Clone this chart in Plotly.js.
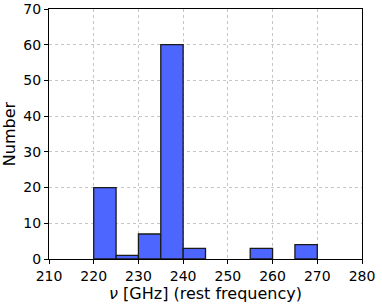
<!DOCTYPE html>
<html>
<head>
<meta charset="utf-8">
<script src="https://cdn.plot.ly/plotly-3.0.1.min.js"></script>
<style>
  html, body { margin: 0; padding: 0; background: #fff; }
  #hist-plot { width: 382px; height: 305px; }
</style>
</head>
<body>
<div id="hist-plot"></div>
<script>
// histogram bins (left edge, GHz) and counts
var binLeft = [220, 225, 230, 235, 240, 245, 250, 255, 260, 265];
var counts = [20, 1, 7, 60, 3, 0, 0, 3, 0, 4];
var binWidth = 5;

function drawHistPlot() {
  var centers = [];
  var heights = [];
  for (var i = 0; i < binLeft.length; i++) {
    if (counts[i] > 0) {
      centers.push(binLeft[i] + binWidth / 2);
      heights.push(counts[i]);
    }
  }

  var plotData = [{
    x: centers,
    y: heights,
    type: 'bar',
    width: binWidth,
    marker: {
      color: '#4d66ff',
      line: { color: '#1a1a1a', width: 1.3 }
    },
    hoverinfo: 'none'
  }];

  var font = { family: 'DejaVu Sans', size: 14, color: '#000' };
  var titleFont = { family: 'DejaVu Sans', size: 16, color: '#000' };

  var layout = {
    width: 382,
    height: 305,
    margin: { l: 49, r: 20, t: 9, b: 46 },
    paper_bgcolor: '#fff',
    plot_bgcolor: '#fff',
    showlegend: false,
    font: font,
    xaxis: {
      range: [210, 280],
      tickvals: [210, 220, 230, 240, 250, 260, 270, 280],
      ticks: 'outside',
      ticklen: 4,
      tickcolor: '#000',
      showline: true,
      linecolor: '#000',
      linewidth: 1,
      mirror: true,
      showgrid: true,
      gridcolor: '#b8b8b8',
      griddash: 'dot',
      gridwidth: 0.8,
      zeroline: false,
      tickfont: font,
      title: { text: '<i>ν</i> [GHz] (rest frequency)', font: titleFont, standoff: 1 }
    },
    yaxis: {
      range: [0, 70],
      tickvals: [0, 10, 20, 30, 40, 50, 60, 70],
      ticks: 'outside',
      ticklen: 4,
      tickcolor: '#000',
      showline: true,
      linecolor: '#000',
      linewidth: 1,
      mirror: true,
      showgrid: true,
      gridcolor: '#b8b8b8',
      griddash: 'dot',
      gridwidth: 0.8,
      zeroline: false,
      tickfont: font,
      title: { text: 'Number', font: titleFont, standoff: 3 }
    }
  };

  Plotly.newPlot('hist-plot', plotData, layout, { displayModeBar: false, staticPlot: true });
}

document.addEventListener('DOMContentLoaded', drawHistPlot);
</script>
</body>
</html>
